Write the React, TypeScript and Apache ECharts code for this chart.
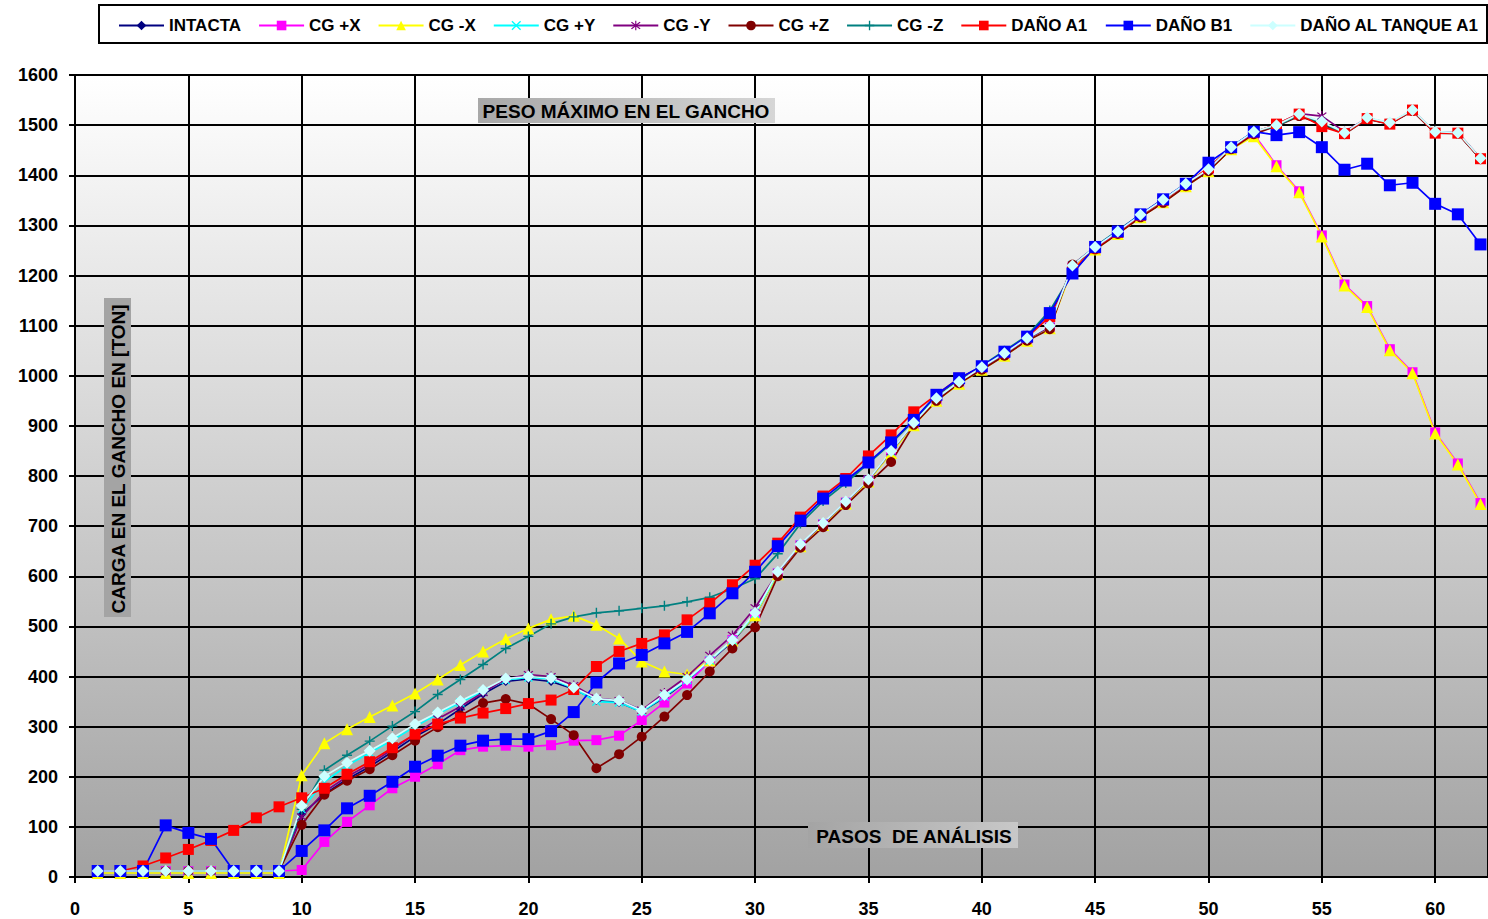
import React, { useEffect, useRef } from "react";
import * as echarts from "echarts";

const steps = [
  1, 2, 3, 4, 5, 6, 7, 8, 9, 10, 11, 12, 13, 14, 15, 16, 17, 18, 19, 20, 21,
  22, 23, 24, 25, 26, 27, 28, 29, 30, 31, 32, 33, 34, 35, 36, 37, 38, 39, 40,
  41, 42, 43, 44, 45, 46, 47, 48, 49, 50, 51, 52, 53, 54, 55, 56, 57, 58, 59,
  60, 61, 62,
];

const yTicks = [0, 100, 200, 300, 400, 500, 600, 700, 800, 900, 1000, 1100, 1200, 1300, 1400, 1500, 1600];
const xTickLabels = ["0", "5", "10", "15", "20", "25", "30", "35", "40", "45", "50", "55", "60"];

const intacta = [
  12, 12, 12, 12, 12, 12, 12, 12, 12,
  125, 165, 195, 220, 250, 280, 305, 335, 365, 390, 395, 390, 375, 352, 348, 330, 358, 392, 430, 470, 522,
  605, 662, 704, 747, 791, 848, 904, 953, 987, 1015, 1043, 1073, 1097, 1220, 1256, 1286, 1319, 1349, 1381, 1410,
  1455, 1485, 1499, 1520, 1505, 1484, 1513, 1503, 1529, 1485, 1484, 1433,
];
const cgPosX = [
  12, 12, 12, 12, 12, 12, 12, 12, 12,
  14, 70, 110, 143, 177, 200, 225, 253, 260, 262, 260, 263, 272, 273, 282, 313, 348, 386, 430, 473, 524,
  606, 662, 704, 747, 791, 848, 903, 952, 986, 1014, 1042, 1072, 1097, 1216, 1254, 1285, 1318, 1348, 1380, 1410,
  1454, 1482, 1420, 1368, 1280, 1182, 1139, 1053, 1007, 887, 825, 746,
];
const cgNegX = [
  8, 8, 8, 8, 8, 8, 8, 8, 8,
  203, 267, 295, 319, 342, 366, 394, 423, 450, 475, 496, 514, 521, 503, 476, 430, 410, 404, 432, 472, 522,
  604, 660, 702, 745, 789, 846, 901, 950, 984, 1012, 1040, 1070, 1095, 1214, 1252, 1283, 1316, 1346, 1378, 1408,
  1452, 1478, 1418, 1366, 1278, 1180, 1137, 1051, 1005, 885, 823, 744,
];
const cgPosY = [
  12, 12, 12, 12, 12, 12, 12, 12, 12,
  135, 190, 222, 248, 273, 300, 325, 348, 370, 393, 398, 395, 376, 350, 348, 330, 360, 393, 432, 472, 525,
  607, 663, 705, 748, 792, 849, 905, 954, 987, 1016, 1044, 1074, 1098, 1221, 1257, 1286, 1320, 1350, 1382, 1411,
  1455, 1486, 1499, 1521, 1506, 1484, 1514, 1504, 1529, 1486, 1484, 1433,
];
const cgNegY = [
  12, 12, 12, 12, 12, 12, 12, 12, 12,
  120, 170, 200, 225, 255, 285, 315, 340, 368, 395, 404, 400, 382, 357, 352, 333, 367, 400, 442, 482, 537,
  607, 662, 705, 748, 792, 849, 905, 954, 987, 1016, 1044, 1074, 1098, 1221, 1257, 1287, 1320, 1350, 1382, 1411,
  1455, 1486, 1501, 1523, 1518, 1487, 1514, 1504, 1529, 1486, 1485, 1434,
];
const cgPosZ = [
  12, 12, 12, 12, 12, 12, 12, 12, 12,
  104, 164, 192, 215, 243, 272, 299, 322, 347, 355, 345, 315, 283, 217, 245, 280, 320, 363, 410, 456, 498,
  600, 657, 698, 742, 785, 828, 902, 950, 985, 1012, 1040, 1070, 1093, 1222, 1252, 1283, 1316, 1345, 1378, 1408,
  1452, 1482, 1498, 1518, 1502, 1482, 1512, 1502, 1528, 1484, 1483, 1432,
];
const cgNegZ = [
  12, 12, 12, 12, 12, 12, 12, 12, 12,
  135, 213, 243, 271, 301, 330, 364, 394, 424, 456, 480, 505, 519, 527, 531, 536, 541, 549, 558, 575, 595,
  645, 705, 750, 786, 825, 865, 910, 960, 993, 1020, 1050, 1080, 1130, 1205, 1258, 1290, 1322, 1352, 1383, 1413,
  1457, 1487, 1498, 1520, 1505, 1483, 1513, 1503, 1529, 1485, 1484, 1433,
];
const danoA1 = [
  12, 12, 22, 38, 55, 73, 93, 118, 140,
  158, 177, 205, 230, 258, 285, 305, 317, 327, 336, 346, 353, 374, 420, 450, 466, 483, 513, 546, 583, 622,
  666, 718, 760, 795, 840, 882, 928, 962, 995, 1018, 1047, 1077, 1118, 1210, 1255, 1286, 1320, 1350, 1382, 1415,
  1455, 1485, 1502, 1522, 1497, 1483, 1513, 1502, 1530, 1484, 1484, 1433,
];
const danoB1 = [
  12, 12, 12, 103, 88, 76, 12, 12, 12,
  52, 93, 137, 162, 190, 220, 242, 262, 272, 275, 275, 291, 329, 388, 426, 443, 466, 489, 526, 566, 609,
  660, 711, 755, 791, 827, 867, 912, 962, 995, 1019, 1048, 1078, 1125, 1204, 1257, 1288, 1322, 1352, 1383, 1425,
  1456, 1487, 1480, 1486, 1456, 1411, 1423, 1380, 1385, 1343, 1322, 1262,
];
const danoTanqueA1 = [
  12, 12, 12, 12, 12, 12, 12, 12, 12,
  142, 201, 228, 252, 277, 305, 328, 351, 373, 396, 400, 397, 378, 356, 352, 332, 363, 394, 433, 473, 527,
  609, 664, 706, 749, 793, 850, 906, 955, 988, 1017, 1045, 1075, 1100, 1220, 1257, 1288, 1321, 1351, 1383, 1412,
  1456, 1487, 1500, 1522, 1507, 1485, 1515, 1505, 1530, 1487, 1485, 1434,
];

const seriesNames = [
  "INTACTA", "CG +X", "CG -X", "CG +Y", "CG -Y", "CG +Z", "CG -Z", "DAÑO A1", "DAÑO B1", "DAÑO AL TANQUE A1",
];
const seriesValues = [intacta, cgPosX, cgNegX, cgPosY, cgNegY, cgPosZ, cgNegZ, danoA1, danoB1, danoTanqueA1];
const seriesColors = [
  "#000080", "#FF00FF", "#FFFF00", "#00FFFF", "#800080", "#800000", "#008080", "#FF0000", "#0000FF", "#CCFFFF",
];

const PLUS = "path://M4.3,0H5.7V4.3H10V5.7H5.7V10H4.3V5.7H0V4.3H4.3Z";
const CROSS = "path://M0,1L1,0L5,4L9,0L10,1L6,5L10,9L9,10L5,6L1,10L0,9L4,5Z";
const STAR = "path://M0,1L1,0L5,4L9,0L10,1L6,5L10,9L9,10L5,6L1,10L0,9L4,5Z M4.4,-1.5H5.6V11.5H4.4Z";

const seriesSymbols = ["diamond", "rect", "triangle", CROSS, STAR, "circle", PLUS, "rect", "rect", "diamond"];
const seriesSymbolSizes = [9, 10, 12, 9, 10, 10, 10, 11, 12, 12];

const FONT = "'Liberation Sans', Arial, sans-serif";

export default function App() {
  const ref = useRef<HTMLDivElement>(null);
  useEffect(() => {
    document.body.style.margin = "0";
    const chart = echarts.init(ref.current as HTMLDivElement, null, { renderer: "svg" });
    const series = seriesNames.map((name, i) => ({
      name,
      type: "line",
      data: steps.map((s, k) => [s, seriesValues[i][k]]),
      symbol: seriesSymbols[i],
      symbolSize: seriesSymbolSizes[i],
      showAllSymbol: true,
      lineStyle: { color: seriesColors[i], width: 1.7 },
      itemStyle: { color: seriesColors[i], borderWidth: 0 },
      emphasis: { disabled: true },
    }));

    chart.setOption({
      animation: false,
      backgroundColor: "#ffffff",
      textStyle: { fontFamily: FONT },
      grid: {
        left: 75,
        top: 75,
        width: 1413,
        height: 802,
        show: true,
        borderWidth: 0,
        backgroundColor: {
          type: "linear",
          x: 0,
          y: 0,
          x2: 0,
          y2: 1,
          colorStops: [
            { offset: 0, color: "#ffffff" },
            { offset: 1, color: "#a2a2a2" },
          ],
        },
      },
      legend: {
        left: 118,
        top: 17,
        data: seriesNames,
        itemWidth: 45,
        itemHeight: 12,
        itemGap: 17,
        padding: 0,
        textStyle: { fontSize: 17, fontWeight: "bold", color: "#000", fontFamily: FONT },
      },
      xAxis: {
        type: "value",
        min: 0,
        max: 62.33,
        interval: 5,
        axisLine: { show: true, lineStyle: { color: "#000", width: 2 } },
        axisTick: { show: true, length: 6, lineStyle: { color: "#000", width: 2 } },
        splitLine: { show: true, lineStyle: { color: "#000", width: 2 } },
        axisLabel: {
          showMaxLabel: false,
          margin: 23,
          fontSize: 18,
          fontWeight: "bold",
          color: "#000",
          fontFamily: FONT,
          formatter: (v: number) => {
            const s = String(v);
            return xTickLabels.indexOf(s) >= 0 ? s : "";
          },
        },
      },
      yAxis: {
        type: "value",
        min: 0,
        max: 1600,
        interval: 100,
        axisLine: { show: true, lineStyle: { color: "#000", width: 2 } },
        axisTick: { show: true, length: 6, lineStyle: { color: "#000", width: 2 } },
        splitLine: { show: true, lineStyle: { color: "#000", width: 2 } },
        axisLabel: {
          margin: 17,
          fontSize: 18,
          fontWeight: "bold",
          color: "#000",
          fontFamily: FONT,
          formatter: (v: number) => (yTicks.indexOf(v) >= 0 ? String(v) : ""),
        },
      },
      graphic: [
        {
          type: "rect",
          z: 100,
          shape: { x: 99, y: 5, width: 1388, height: 38 },
          style: { fill: "rgba(0,0,0,0)", stroke: "#000", lineWidth: 2 },
        },
        {
          type: "rect",
          z: 100,
          shape: { x: 478, y: 98, width: 297, height: 25 },
          style: {
            fill: {
              type: "linear",
              x: 0,
              y: 0,
              x2: 1,
              y2: 0,
              colorStops: [
                { offset: 0, color: "#a8a8a8" },
                { offset: 1, color: "#d6d6d6" },
              ],
            },
          },
        },
        {
          type: "text",
          z: 101,
          x: 626,
          y: 111,
          style: {
            text: "PESO MÁXIMO EN EL GANCHO",
            font: `bold 19px ${FONT}`,
            fill: "#000",
            align: "center",
            verticalAlign: "middle",
          },
        },
        {
          type: "rect",
          z: 100,
          shape: { x: 808, y: 822, width: 210, height: 26 },
          style: {
            fill: {
              type: "linear",
              x: 0,
              y: 0,
              x2: 1,
              y2: 0,
              colorStops: [
                { offset: 0, color: "#a4a4a4" },
                { offset: 1, color: "#c8c8c8" },
              ],
            },
          },
        },
        {
          type: "text",
          z: 101,
          x: 914,
          y: 836,
          style: {
            text: "PASOS  DE ANÁLISIS",
            font: `bold 19px ${FONT}`,
            fill: "#000",
            align: "center",
            verticalAlign: "middle",
          },
        },
        {
          type: "rect",
          z: 100,
          shape: { x: 104, y: 298, width: 27, height: 319 },
          style: { fill: "#a4a4a4" },
        },
        {
          type: "text",
          z: 101,
          x: 118,
          y: 459,
          rotation: Math.PI / 2,
          style: {
            text: "CARGA EN EL GANCHO EN [TON]",
            font: `bold 19px ${FONT}`,
            fill: "#000",
            align: "center",
            verticalAlign: "middle",
          },
        },
      ],
      series,
    });
    return () => chart.dispose();
  }, []);
  return <div ref={ref} style={{ width: 1488, height: 919 }} />;
}
